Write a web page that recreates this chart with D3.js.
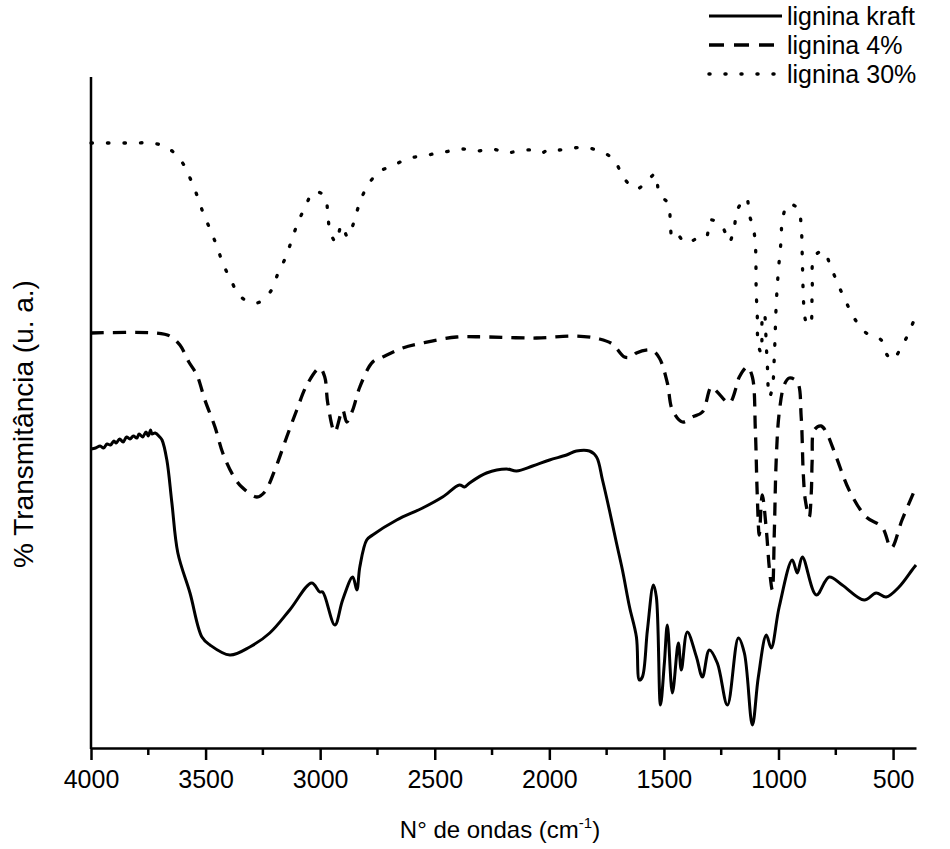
<!DOCTYPE html>
<html>
<head>
<meta charset="utf-8">
<script src="https://cdn.jsdelivr.net/npm/d3@7"></script>
<style>
  body { margin: 0; background: #fff; }
  svg { font-family: "Liberation Sans", Arial, sans-serif; }
</style>
</head>
<body>
<div id="chart"></div>
<script>
var width = 950;
var height = 849;

var margin = { "top": 77, "bottom": 101, "left": 91, "right": 34 };

// spectra: [wavenumber cm-1, transmittance u.a.]
var kraft = [
  [4000,299],[3980,300],[3960,302],[3945,300],[3930,304],[3915,303],[3900,307],[3890,305],
  [3875,309],[3860,306],[3845,311],[3830,309],[3815,312],[3800,310],[3790,314],[3775,311],
  [3760,316],[3750,312],[3740,318],[3734,314],[3720,315],[3700,311],[3690,308],[3669,288],
  [3647,245],[3621,195],[3568,155],[3516,111],[3481,103],[3394,93],[3307,101],[3220,115],
  [3133,138],[3037,165],[3002,156],[2989,156],[2936,123],[2902,148],[2858,171],[2840,158],
  [2827,181],[2797,208],[2771,213],[2666,228],[2553,240],[2466,251],[2392,263],[2370,261],
  [2348,265],[2274,275],[2187,279],[2143,277],[2073,282],[1999,288],[1925,293],[1882,297],
  [1825,297],[1794,291],[1768,268],[1738,238],[1707,205],[1681,178],[1650,141],[1620,111],
  [1607,68],[1594,71],[1572,118],[1546,163],[1533,151],[1515,43],[1498,85],[1485,123],
  [1463,55],[1437,105],[1424,78],[1398,116],[1358,91],[1332,71],[1302,98],[1267,85],
  [1223,43],[1175,110],[1149,95],[1114,23],[1088,71],[1053,113],[1032,100],[997,141],
  [940,188],[918,175],[896,191],[835,153],[779,171],[722,163],[626,148],[574,155],
  [530,151],[474,161],[417,178],[400,183]
];

var lig4 = [
  [4000,415],[3717,415],[3656,412],[3612,403],[3573,386],[3538,373],[3503,348],[3459,321],
  [3425,295],[3381,273],[3342,261],[3276,251],[3242,256],[3198,278],[3146,311],[3102,338],
  [3058,363],[3002,380],[2980,371],[2967,345],[2936,316],[2902,338],[2884,326],[2858,338],
  [2827,361],[2771,386],[2727,391],[2640,400],[2553,405],[2405,411],[2261,411],[2056,410],
  [1882,412],[1781,409],[1725,404],[1672,391],[1642,391],[1620,395],[1555,398],[1520,390],
  [1485,365],[1463,338],[1419,326],[1376,331],[1332,336],[1293,361],[1267,356],[1215,345],
  [1184,361],[1171,371],[1136,381],[1114,371],[1101,318],[1093,255],[1084,213],[1071,253],
  [1053,218],[1040,180],[1027,158],[1018,218],[1010,288],[997,335],[975,363],[953,370],
  [918,366],[901,331],[892,275],[883,248],[866,231],[857,255],[853,288],[844,318],
  [814,322],[792,316],[748,291],[692,258],[617,231],[548,221],[508,200],[461,228],[400,261]
];

var lig30 = [
  [4000,605],[3952,605],[3882,605],[3808,605],[3734,605],[3664,600],[3603,586],[3568,570],
  [3538,553],[3512,536],[3481,519],[3451,502],[3425,485],[3390,468],[3346,451],[3276,445],
  [3215,457],[3185,474],[3150,491],[3124,508],[3098,525],[3067,540],[3028,556],[2980,552],
  [2967,535],[2958,518],[2932,506],[2906,523],[2880,511],[2854,525],[2832,542],[2801,559],
  [2749,575],[2679,583],[2605,590],[2531,593],[2457,596],[2383,599],[2317,597],[2248,599],
  [2187,595],[2139,597],[2078,598],[2034,595],[1999,599],[1956,598],[1899,600],[1829,600],
  [1751,594],[1712,586],[1672,569],[1620,559],[1581,565],[1537,574],[1524,558],[1507,551],
  [1480,544],[1472,527],[1463,510],[1441,513],[1406,505],[1350,510],[1315,511],[1297,528],
  [1245,521],[1215,506],[1193,521],[1180,538],[1140,550],[1127,533],[1110,520],[1101,504],
  [1097,454],[1093,436],[1088,403],[1075,395],[1071,428],[1062,435],[1053,401],[1049,385],
  [1040,351],[1027,360],[1018,393],[1010,443],[1001,476],[988,510],[984,527],[957,544],
  [914,539],[901,521],[896,488],[892,454],[888,438],[879,426],[862,423],[853,456],
  [844,491],[805,497],[770,480],[739,463],[705,446],[670,430],[617,415],[552,408],
  [526,393],[504,388],[461,402],[430,416],[408,428],[400,432]
];

var xTicks = [4000, 3500, 3000, 2500, 2000, 1500, 1000, 500];
var xMinorTicks = [3750, 3250, 2750, 2250, 1750, 1250, 750];

var seriesNames = ["lignina kraft", "lignina 4%", "lignina 30%"];
var seriesData = [kraft, lig4, lig30];
var dashes = [null, "13,9", "1.5,15"];

var svg = d3.select("#chart")
            .append("svg")
            .attr("width", width)
            .attr("height", height);

var plotW = width - margin.left - margin.right;
var plotH = height - margin.top - margin.bottom;

var scaleX = d3.scaleLinear().domain([4000, 400]).range([margin.left, margin.left + plotW]);
var scaleY = d3.scaleLinear().domain([0, 671]).range([margin.top + plotH, margin.top]);

var line = d3.line()
             .x(function(d) { return scaleX(d[0]); })
             .y(function(d) { return scaleY(d[1]); })
             .curve(d3.curveCatmullRom.alpha(0.5));

// spectra
seriesData.forEach(function(data, i) {
  svg.append("path")
     .datum(data)
     .attr("d", line)
     .attr("fill", "none")
     .attr("stroke", "#000")
     .attr("stroke-width", i == 0 ? 3 : 3.3)
     .attr("stroke-linecap", i == 2 ? "round" : "butt")
     .attr("stroke-linejoin", "round")
     .attr("stroke-dasharray", dashes[i]);
});

// x axis
var xAxis = d3.axisBottom(scaleX)
              .tickValues(xTicks)
              .tickSizeInner(12)
              .tickSizeOuter(0)
              .tickPadding(10)
              .tickFormat(d3.format("d"));

var gx = svg.append("g")
            .attr("transform", "translate(0," + (margin.top + plotH) + ")")
            .call(xAxis);

gx.selectAll("text").attr("font-size", 25).attr("fill", "#000")
  .attr("font-family", "Liberation Sans, Arial, sans-serif");
gx.selectAll("line").attr("stroke-width", 2.5);
gx.select(".domain").attr("stroke-width", 2.5);

gx.selectAll(".minor")
  .data(xMinorTicks)
  .enter()
  .append("line")
  .attr("class", "minor")
  .attr("x1", function(d) { return scaleX(d); })
  .attr("x2", function(d) { return scaleX(d); })
  .attr("y1", 0)
  .attr("y2", 7)
  .attr("stroke", "#000")
  .attr("stroke-width", 2.5);

// y axis (no ticks)
svg.append("line")
   .attr("x1", margin.left).attr("x2", margin.left)
   .attr("y1", margin.top).attr("y2", margin.top + plotH + 1)
   .attr("stroke", "#000")
   .attr("stroke-width", 2.5);

// axis labels
var xLab = svg.append("text")
              .attr("x", 500)
              .attr("y", 838)
              .attr("text-anchor", "middle")
              .attr("font-size", 24)
              .text("N° de ondas (cm");
xLab.append("tspan").attr("font-size", 15).attr("dy", -10).text("-1");
xLab.append("tspan").attr("dy", 10).text(")");

svg.append("text")
   .attr("transform", "translate(33,424) rotate(-90)")
   .attr("text-anchor", "middle")
   .attr("font-size", 28)
   .text("% Transmitância (u. a.)");

// legend
var legend = svg.append("g").attr("transform", "translate(709,16)");

seriesNames.forEach(function(name, i) {
  var row = legend.append("g").attr("transform", "translate(0," + (i * 29) + ")");
  row.append("line")
     .attr("x1", 0).attr("x2", 73)
     .attr("y1", 0).attr("y2", 0)
     .attr("stroke", "#000")
     .attr("stroke-width", i == 0 ? 3 : 3.5)
     .attr("stroke-linecap", i == 2 ? "round" : "butt")
     .attr("stroke-dasharray", i == 1 ? "15,10" : (i == 2 ? "1,15" : null));
  row.append("text")
     .attr("x", 78)
     .attr("y", 9)
     .attr("font-size", 25)
     .text(name);
});
</script>
</body>
</html>
